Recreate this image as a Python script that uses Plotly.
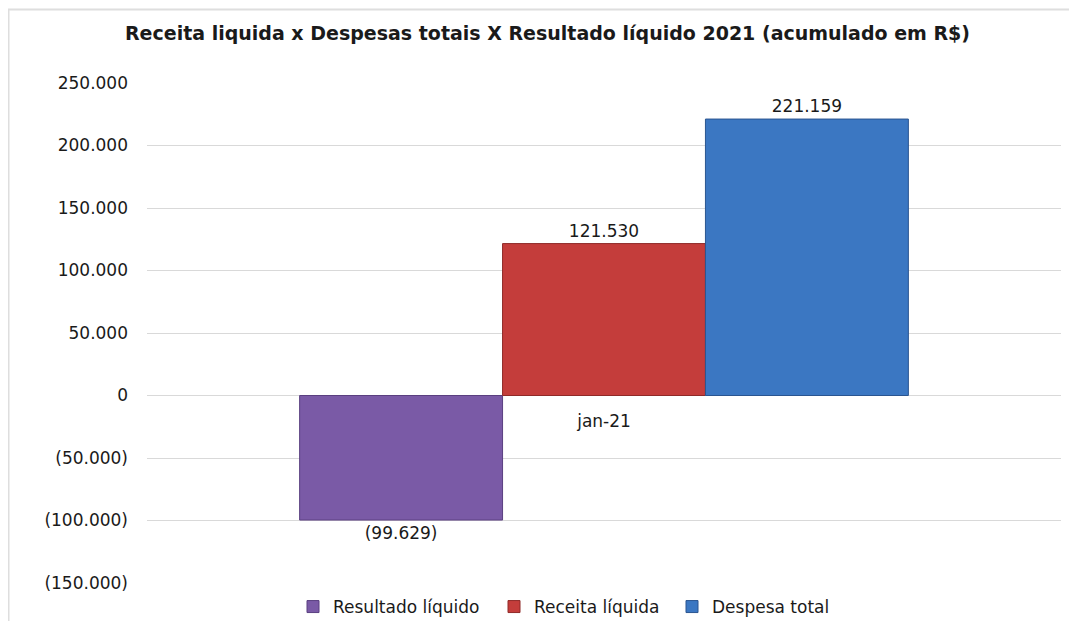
import plotly.graph_objects as go

categories = ["jan-21"]
series_names = ["Resultado líquido", "Receita líquida", "Despesa total"]
series_values = [[-99629], [121530], [221159]]
series_colors = ["#7a5aa6", "#c43d3b", "#3b77c2"]
edge_colors = ["#5a3f80", "#8f2a28", "#2a5590"]

tick_vals = [250000, 200000, 150000, 100000, 50000, 0, -50000, -100000, -150000]
tick_text = ["250.000", "200.000", "150.000", "100.000", "50.000", "0",
             "(50.000)", "(100.000)", "(150.000)"]


def fmt(v):
    s = f"{abs(v):,}".replace(",", ".")
    return f"({s})" if v < 0 else s


# page body has an 8px offset; figure is sized so it fills the window
W, H = 1069, 613
OFF = 8
FONT = "DejaVu Sans"
legend_names = ["legend", "legend2", "legend3"]
legend_left = [293, 494, 672]  # screen px, left edge of each legend box

fig = go.Figure()
for name, vals, col, edge, lg in zip(series_names, series_values, series_colors,
                                     edge_colors, legend_names):
    fig.add_trace(go.Bar(
        x=categories, y=vals, name=name, legend=lg,
        marker=dict(color=col, line=dict(color=edge, width=1)),
        text=[fmt(v) for v in vals], textposition="outside",
        textfont=dict(family=FONT, size=17, color="#1a1a1a"),
        cliponaxis=False,
    ))

legend_common = dict(orientation="h", xref="container", xanchor="left",
                      y=1 - (607 - OFF) / H, yref="container", yanchor="middle",
                      font=dict(family=FONT, size=17, color="#1a1a1a"),
                      itemwidth=30, bgcolor="rgba(0,0,0,0)")
layout_legends = {}
for lg, lx in zip(legend_names, legend_left):
    layout_legends[lg] = dict(legend_common, x=(lx - OFF) / W)

fig.update_layout(
    width=W, height=H,
    paper_bgcolor="white", plot_bgcolor="white",
    margin=dict(l=147 - OFF, r=W - (1061 - OFF), t=83 - OFF, b=H - (583 - OFF), autoexpand=False),
    barmode="group", bargap=0.334, bargroupgap=0,
    title=dict(text="<b>Receita liquida x Despesas totais X Resultado líquido 2021 (acumulado em R$)</b>",
               x=(547.5 - OFF) / W, xref="container", xanchor="center",
               y=1 - (33 - OFF) / H, yref="container", yanchor="middle",
               font=dict(family="DejaVu Sans", size=19, color="#1a1a1a")),
    showlegend=True,
    xaxis=dict(anchor="free", position=(583 - 396) / 500, showline=False,
               ticks="", showgrid=False, ticklabelstandoff=13,
               tickfont=dict(family=FONT, size=17, color="#1a1a1a")),
    yaxis=dict(range=[-150000, 250000], tickvals=tick_vals, ticktext=tick_text,
               showgrid=True, gridcolor="#d9d9d9", gridwidth=1,
               zeroline=True, zerolinecolor="#d9d9d9", zerolinewidth=1,
               ticks="", ticklabelstandoff=18,
               tickfont=dict(family=FONT, size=17, color="#1a1a1a")),
    shapes=[dict(type="rect", xref="paper", yref="paper",
                 x0=(OFF + 0.5 - 147) / 914, x1=(1100 - 147) / 914,
                 y0=(583 - 660) / 500, y1=(583 - (OFF + 1.5)) / 500,
                 line=dict(color="#dedede", width=2), layer="below")],
    **layout_legends,
)

fig.write_html("out.html")
